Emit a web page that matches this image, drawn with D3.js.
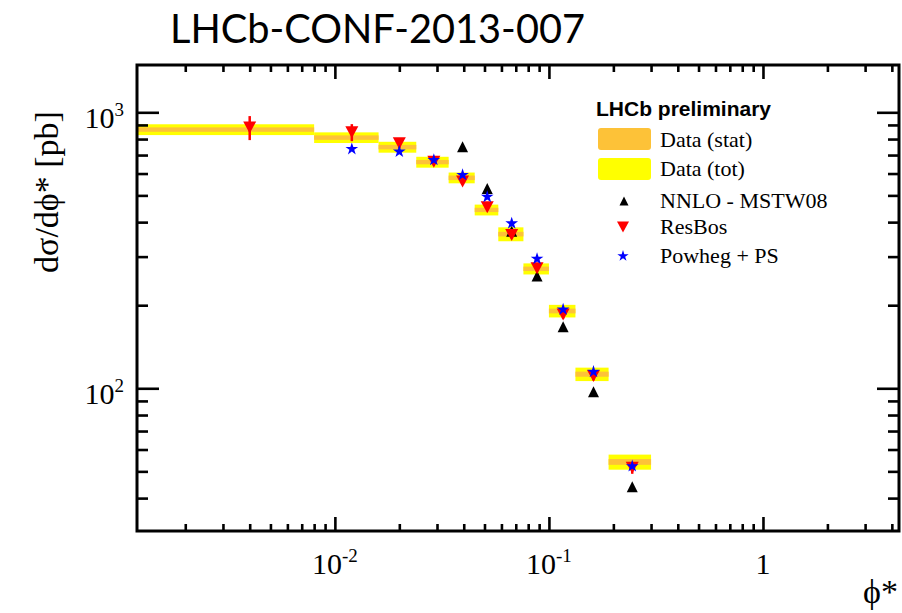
<!DOCTYPE html>
<html>
<head>
<meta charset="utf-8">
<script src="https://cdn.jsdelivr.net/npm/d3@7"></script>
<style>
  body { margin: 0; background: #ffffff; }
  svg { display: block; }
</style>
</head>
<body>
<script>
// φ* bin edges and measured cross-section (pb) with stat / total uncertainties
const binEdges  = [0, 0.008, 0.016, 0.024, 0.034, 0.045, 0.058, 0.076, 0.1, 0.133, 0.19, 0.3];
const dataValue = [866, 810, 748, 660, 579, 443, 362, 271, 190.6, 112.5, 54.1];
const dataStat  = [16, 15, 14, 12, 11, 8, 7, 5, 3.8, 2.4, 1.3];
const dataTot   = [39, 36, 34, 30, 26, 20, 21, 12.5, 10, 6.3, 3.4];

// Theory predictions per bin (null where not shown)
const nnlo      = [null, null, null, null, 750, 530, 371, 255, 167, 97.2, 44.0];
const resbos    = [881, 846, 772, 662, 561, 453, 359, 272, 185, 110.8, 51.5];
const resbosErr = [88, 60, 30, 20, 15, 12, 10, 8, 6, 4, 2.5];
const powheg    = [null, 736, 720, 672, 593, 494, 396, 294.5, 193, 114.8, 52.2];

// Axis ticks and labels
const xMajorTicks  = [0.01, 0.1, 1];
const xTickBase    = ["10", "10", "1"];
const xTickExp     = ["-2", "-1", ""];
const yMajorTicks  = [100, 1000];
const yTickBase    = ["10", "10"];
const yTickExp     = ["2", "3"];

const legendTitle  = "LHCb preliminary";
const legendBands  = ["Data (stat)", "Data (tot)"];
const legendMarks  = ["NNLO - MSTW08", "ResBos", "Powheg + PS"];

const W = 902, H = 613;
const L = 137, R = 899, T = 65, B = 531;

const svg = d3.select("body").append("svg").attr("width", W).attr("height", H);

const x = d3.scaleLog().domain([0.00119, 4.32]).range([L, R]);
const y = d3.scaleLog().domain([30.4, 1484]).range([B, T]);

const serif = "'Liberation Serif', 'DejaVu Serif', serif";
const sans  = "'Liberation Sans', Arial, sans-serif";
const ORANGE = "#fdc238";
const YELLOW = "#ffff00";

// Title
svg.append("text")
  .attr("x", 170).attr("y", 43)
  .attr("font-family", "Lato, 'Open Sans', sans-serif")
  .attr("font-size", 40)
  .attr("textLength", 415).attr("lengthAdjust", "spacingAndGlyphs")
  .attr("fill", "#000")
  .text("LHCb-CONF-2013-007");

// Plot clipping
svg.append("clipPath").attr("id", "plotClip")
  .append("rect").attr("x", L).attr("y", T).attr("width", R - L).attr("height", B - T);
const plot = svg.append("g").attr("clip-path", "url(#plotClip)");

const bins = dataValue.map((v, i) => ({
  lo: Math.max(binEdges[i], x.domain()[0]),
  hi: binEdges[i + 1],
  c: (binEdges[i] + binEdges[i + 1]) / 2,
  v, stat: dataStat[i], tot: dataTot[i],
  nnlo: nnlo[i], rb: resbos[i], rbe: resbosErr[i], pw: powheg[i]
}));

// Total uncertainty bands
plot.selectAll("rect.tot").data(bins).join("rect").attr("class", "tot")
  .attr("x", d => x(d.lo)).attr("width", d => x(d.hi) - x(d.lo))
  .attr("y", d => y(d.v + d.tot)).attr("height", d => y(d.v - d.tot) - y(d.v + d.tot))
  .attr("fill", YELLOW);

// Statistical uncertainty bands
plot.selectAll("rect.stat").data(bins).join("rect").attr("class", "stat")
  .attr("x", d => x(d.lo)).attr("width", d => x(d.hi) - x(d.lo))
  .attr("y", d => y(d.v + d.stat)).attr("height", d => y(d.v - d.stat) - y(d.v + d.stat))
  .attr("fill", ORANGE);

const triUp = (w, h) => `M0,${-h / 2}L${w / 2},${h / 2}L${-w / 2},${h / 2}Z`;
const triDown = (w, h) => `M0,${h / 2}L${w / 2},${-h / 2}L${-w / 2},${-h / 2}Z`;
const star = d3.symbol().type(d3.symbolStar);

// NNLO predictions
plot.selectAll("path.nnlo").data(bins.filter(d => d.nnlo != null)).join("path").attr("class", "nnlo")
  .attr("transform", d => `translate(${x(d.c)},${y(d.nnlo)})`)
  .attr("d", triUp(11, 11)).attr("fill", "#000");

// ResBos predictions with error bars
plot.selectAll("line.rberr").data(bins).join("line").attr("class", "rberr")
  .attr("x1", d => x(d.c)).attr("x2", d => x(d.c))
  .attr("y1", d => y(d.rb + d.rbe)).attr("y2", d => y(d.rb - d.rbe))
  .attr("stroke", "#ff0000").attr("stroke-width", 2.5);
plot.selectAll("path.rb").data(bins).join("path").attr("class", "rb")
  .attr("transform", d => `translate(${x(d.c)},${y(d.rb)})`)
  .attr("d", triDown(13, 12)).attr("fill", "#ff0000");

// Powheg predictions
plot.selectAll("path.pw").data(bins.filter(d => d.pw != null)).join("path").attr("class", "pw")
  .attr("transform", d => `translate(${x(d.c)},${y(d.pw)})`)
  .attr("d", star.size(50)()).attr("fill", "#0000ff");

// Tick generation for log axes
function logTicks(scale) {
  const [a, b] = scale.domain();
  const out = [];
  for (let k = Math.floor(Math.log10(a)); k <= Math.ceil(Math.log10(b)); k++) {
    for (let m = 1; m <= 9; m++) {
      const v = m * Math.pow(10, k);
      if (v >= a * 1.0001 && v <= b / 1.0001 && m !== 1) out.push(v);
    }
  }
  return out;
}
const xMinor = logTicks(x);
const yMinor = logTicks(y);

const axes = svg.append("g");
function styleAxis(g) {
  g.select(".domain").remove();
  g.selectAll(".tick line").attr("stroke", "#000").attr("stroke-width", 2.6);
  g.selectAll(".tick text").remove();
}
// Bottom / top
axes.append("g").attr("transform", `translate(0,${B})`)
  .call(d3.axisBottom(x).tickValues(xMajorTicks).tickSize(-14).tickFormat("")).call(styleAxis);
axes.append("g").attr("transform", `translate(0,${B})`)
  .call(d3.axisBottom(x).tickValues(xMinor).tickSize(-7).tickFormat("")).call(styleAxis);
axes.append("g").attr("transform", `translate(0,${T})`)
  .call(d3.axisTop(x).tickValues(xMajorTicks).tickSize(-14).tickFormat("")).call(styleAxis);
axes.append("g").attr("transform", `translate(0,${T})`)
  .call(d3.axisTop(x).tickValues(xMinor).tickSize(-7).tickFormat("")).call(styleAxis);
// Left / right
axes.append("g").attr("transform", `translate(${L},0)`)
  .call(d3.axisLeft(y).tickValues(yMajorTicks).tickSize(-22).tickFormat("")).call(styleAxis);
axes.append("g").attr("transform", `translate(${L},0)`)
  .call(d3.axisLeft(y).tickValues(yMinor).tickSize(-11).tickFormat("")).call(styleAxis);
axes.append("g").attr("transform", `translate(${R},0)`)
  .call(d3.axisRight(y).tickValues(yMajorTicks).tickSize(-22).tickFormat("")).call(styleAxis);
axes.append("g").attr("transform", `translate(${R},0)`)
  .call(d3.axisRight(y).tickValues(yMinor).tickSize(-11).tickFormat("")).call(styleAxis);

// Frame
svg.append("rect").attr("x", L).attr("y", T).attr("width", R - L).attr("height", B - T)
  .attr("fill", "none").attr("stroke", "#000").attr("stroke-width", 3);

// X tick labels
xMajorTicks.forEach((v, i) => {
  const t = svg.append("text").attr("x", x(v)).attr("y", 574)
    .attr("text-anchor", "middle").attr("font-family", serif).attr("font-size", 30).attr("fill", "#000");
  t.append("tspan").text(xTickBase[i]);
  if (xTickExp[i]) t.append("tspan").attr("font-size", 19).attr("dy", -12).text(xTickExp[i]);
});

// Y tick labels
yMajorTicks.forEach((v, i) => {
  const t = svg.append("text").attr("x", 124).attr("y", y(v) + 16)
    .attr("text-anchor", "end").attr("font-family", serif).attr("font-size", 30).attr("fill", "#000");
  t.append("tspan").text(yTickBase[i]);
  t.append("tspan").attr("font-size", 19).attr("dy", -12).text(yTickExp[i]);
});

// Axis titles
svg.append("text").attr("transform", "translate(58,192) rotate(-90)")
  .attr("text-anchor", "middle").attr("font-family", serif).attr("font-size", 34).attr("fill", "#000")
  .text("dσ/dϕ* [pb]");
svg.append("text").attr("x", 898).attr("y", 603)
  .attr("text-anchor", "end").attr("font-family", serif).attr("font-size", 34).attr("fill", "#000")
  .text("ϕ*");

// Legend
const lg = svg.append("g");
lg.append("text").attr("x", 596).attr("y", 116)
  .attr("font-family", sans).attr("font-weight", "bold").attr("font-size", 21).attr("fill", "#000")
  .text(legendTitle);
[ORANGE, YELLOW].forEach((c, i) => {
  lg.append("rect").attr("x", 598).attr("y", 128 + i * 30).attr("width", 53).attr("height", 22)
    .attr("rx", 3).attr("fill", c);
  lg.append("text").attr("x", 660).attr("y", 147 + i * 29)
    .attr("font-family", serif).attr("font-size", 22).attr("fill", "#000").text(legendBands[i]);
});
const markY = [201, 227, 256];
lg.append("path").attr("transform", `translate(624,${markY[0]})`).attr("d", triUp(9, 9)).attr("fill", "#000");
lg.append("path").attr("transform", `translate(623,${markY[1]})`).attr("d", triDown(12, 11)).attr("fill", "#ff0000");
lg.append("path").attr("transform", `translate(623,${markY[2]})`).attr("d", star.size(40)()).attr("fill", "#0000ff");
legendMarks.forEach((s, i) => {
  lg.append("text").attr("x", 660).attr("y", markY[i] + 7)
    .attr("font-family", serif).attr("font-size", 22).attr("fill", "#000").text(s);
});
</script>
</body>
</html>
